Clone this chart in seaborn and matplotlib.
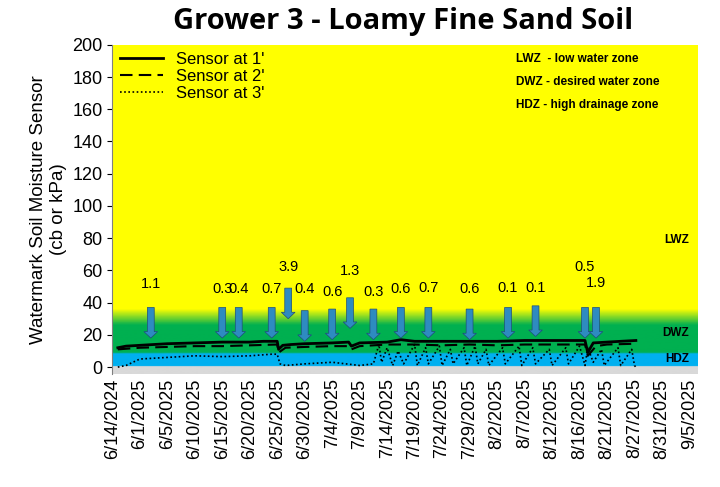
import numpy as np
import pandas as pd
import matplotlib
matplotlib.use("Agg")
import matplotlib.pyplot as plt
import seaborn as sns
from matplotlib.colors import LinearSegmentedColormap

# x tick labels (evenly spaced categories)
date_labels = ["6/14/2024", "6/1/2025", "6/5/2025", "6/10/2025", "6/15/2025", "6/20/2025",
               "6/25/2025", "6/30/2025", "7/4/2025", "7/9/2025", "7/14/2025", "7/19/2025",
               "7/24/2025", "7/29/2025", "8/2/2025", "8/7/2025", "8/12/2025", "8/16/2025",
               "8/21/2025", "8/27/2025", "8/31/2025", "9/5/2025"]

# sensor readings (x in tick-index units)
s1_x = [0.2, 0.5, 1.0, 1.5, 2.0, 3.0, 4.0, 5.0, 5.5, 6.0, 6.05, 6.2, 6.5, 7.0, 8.0, 8.6, 8.7, 9.0,
        10.0, 10.5, 11.0, 12.0, 13.0, 14.0, 15.0, 16.0, 17.2, 17.3, 17.5, 18.0, 18.5, 19.05]
s1_y = [12, 13, 13.5, 14, 14.5, 15, 15.5, 15.5, 16, 16, 11, 13.5, 14, 14.5, 15, 15.5, 13, 15,
        15.5, 17, 16, 16, 16, 16, 16.5, 16.5, 16.5, 9, 15, 15.5, 16, 16.5]
s2_x = [0.2, 1.0, 2.0, 3.0, 4.0, 5.0, 6.0, 6.05, 6.3, 7.0, 8.0, 8.6, 8.7, 9.0, 10.0, 11.0, 12.0,
        13.0, 14.0, 15.0, 16.0, 17.2, 17.3, 17.6, 18.0, 19.05]
s2_y = [11, 12, 12.5, 13, 13, 13.5, 14, 9, 12, 12.5, 13, 13, 11, 13, 14, 14, 13.5, 14, 13.5, 14,
        14, 14, 7, 13, 14, 14.5]
s3_x = [0.2, 0.5, 1.0, 2.0, 3.0, 4.0, 5.0, 5.8, 6.0, 6.1, 6.3, 7.0, 8.0, 9.0, 9.5, 9.7, 9.8,
        10.0, 10.2, 10.4, 10.6, 11.0, 11.1, 11.4, 11.5, 11.9, 12.0, 12.3, 12.4, 12.8, 12.9, 13.2,
        13.3, 13.6, 13.7, 14.2, 14.3, 14.8, 14.9, 15.3, 15.4, 15.9, 16.0, 16.5, 16.6, 17.0, 17.2,
        17.3, 17.5, 17.8, 17.9, 18.4, 18.5, 18.9, 19.0, 19.05]
s3_y = [0, 1, 5, 6, 7, 6.5, 7, 8, 8, 2, 1, 2, 3, 1, 2, 14, 3, 12, 1, 10, 2, 14, 1, 12, 2, 13, 1,
        11, 2, 12, 1, 13, 2, 11, 1, 12, 2, 13, 1, 12, 2, 11, 1, 12, 2, 13, 1, 12, 3, 11, 1, 12,
        1, 11, 1, 0]

# irrigation events (inches) and arrow top positions
irr_x = [1.4, 4.0, 4.6, 5.8, 6.4, 7.0, 8.0, 8.65, 9.5, 10.5, 11.5, 13.0, 14.4, 15.4, 17.2, 17.6]
irr_top = [37, 37, 37, 37, 49, 35, 36, 43, 36, 37, 37, 36, 37, 38, 37, 37]
irr_amt = ["1.1", "0.3", "0.4", "0.7", "3.9", "0.4", "0.6", "1.3", "0.3", "0.6", "0.7", "0.6",
           "0.1", "0.1", "0.5", "1.9"]
lbl_y = [47, 44, 44, 44, 58, 44, 42, 55, 42, 44, 45, 44, 45, 45, 58, 48]

plt.rcParams["font.family"] = "Liberation Sans"
fig = plt.figure(figsize=(7.2, 4.87), dpi=100)
ax = fig.add_axes([0.156, 0.233, 0.813, 0.675])
xmax = len(date_labels) - 1 + 0.3
ax.set_xlim(0, xmax)
ax.set_ylim(-4, 200)

# background zones
yy = np.linspace(-4, 200, 1000)
cmap = LinearSegmentedColormap.from_list("zones", [
    (0.0, "#d9d9d9"), (4 / 204, "#d9d9d9"), (4.3 / 204, "#00b0f0"), (12 / 204, "#00b0f0"),
    (13 / 204, "#00b050"), (30 / 204, "#00b050"), (40 / 204, "#ffff00"), (1.0, "#ffff00")])
ax.imshow(yy.reshape(-1, 1), aspect="auto", cmap=cmap, origin="lower",
          extent=[0, xmax, -4, 200], zorder=0)

sns.lineplot(x=s1_x, y=s1_y, ax=ax, color="black", lw=2, label="Sensor at 1'", zorder=3)
sns.lineplot(x=s2_x, y=s2_y, ax=ax, color="black", lw=1.5, ls=(0, (6, 3)), label="Sensor at 2'", zorder=3)
sns.lineplot(x=s3_x, y=s3_y, ax=ax, color="black", lw=1.2, ls=(0, (1, 1.5)), label="Sensor at 3'", zorder=3)

for x, top, amt, ly in zip(irr_x, irr_top, irr_amt, lbl_y):
    ax.arrow(x, top, 0, -19, width=0.25, head_width=0.5, head_length=4,
             length_includes_head=True, fc="#2e8bc0", ec="#1f4e79", lw=0.5, zorder=4)
    ax.text(x, ly, amt, ha="center", va="bottom", fontsize=10.5, zorder=5)

ax.legend(loc="upper left", frameon=False, fontsize=12, handlelength=2.6,
          borderaxespad=0.05, labelspacing=0.1)
ax.text(0.69, 0.975, "LWZ  - low water zone\n\nDWZ - desired water zone\n\nHDZ - high drainage zone",
        transform=ax.transAxes, fontsize=8.5, fontweight="bold", va="top", linespacing=0.95)
ax.text(0.985, 77, "LWZ", fontsize=8.5, fontweight="bold", ha="right", transform=ax.get_yaxis_transform())
ax.text(0.985, 19, "DWZ", fontsize=8.5, fontweight="bold", ha="right", transform=ax.get_yaxis_transform())
ax.text(0.985, 3, "HDZ", fontsize=8.5, fontweight="bold", ha="right", transform=ax.get_yaxis_transform())

ax.set_xticks(range(len(date_labels)))
ax.set_xticklabels(date_labels, rotation=90, fontsize=13)
ax.set_yticks(range(0, 201, 20))
ax.tick_params(axis="y", labelsize=13)
ax.tick_params(axis="x", length=0)
for s in ["top", "right", "bottom"]:
    ax.spines[s].set_visible(False)
ax.spines["left"].set_color("#808080")
ax.set_ylabel("Watermark Soil Moisture Sensor\n(cb or kPa)", fontsize=13.5)
fig.text(0.56, 0.985, "Grower 3 - Loamy Fine Sand Soil", ha="center", va="top",
         fontsize=21, fontweight="bold", family="Open Sans")

fig.savefig("out.png", dpi=100)
